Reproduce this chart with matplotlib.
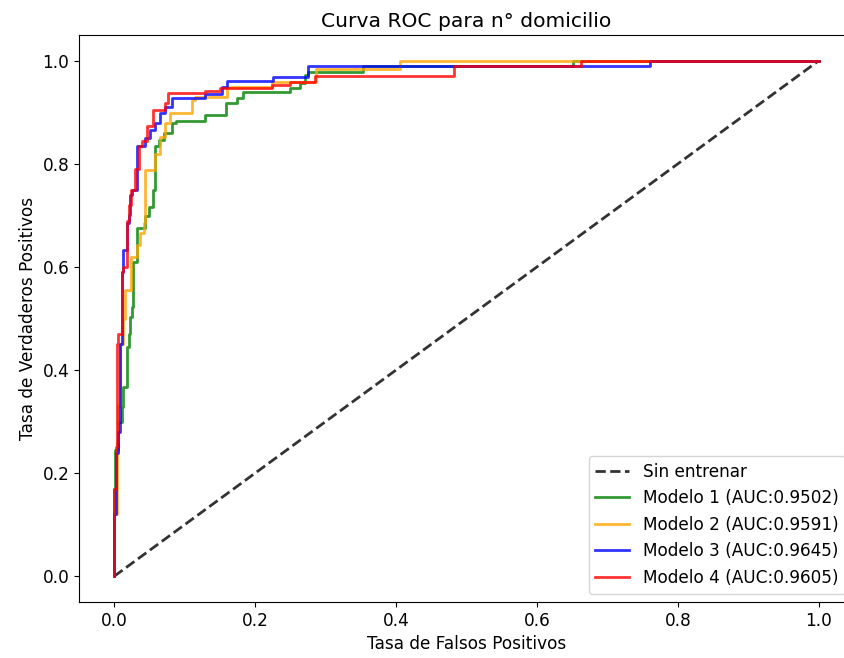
import matplotlib
matplotlib.use("Agg")
import matplotlib.pyplot as plt

# ROC staircase corners (fpr, tpr)
fpr_m1 = [0, 0, 0.001, 0.006, 0.011, 0.013, 0.018, 0.021, 0.022, 0.025, 0.027, 0.032, 0.032,
          0.044, 0.049, 0.055, 0.058, 0.063, 0.070, 0.082, 0.087, 0.129, 0.159, 0.174, 0.183,
          0.250, 0.264, 0.271, 0.275, 0.353, 0.651, 1.0]
tpr_m1 = [0, 0.17, 0.245, 0.30, 0.329, 0.368, 0.445, 0.47, 0.503, 0.523, 0.61, 0.627, 0.675,
          0.698, 0.717, 0.75, 0.834, 0.847, 0.860, 0.879, 0.883, 0.895, 0.918, 0.927, 0.939,
          0.947, 0.957, 0.973, 0.979, 0.989, 1.0, 1.0]

fpr_m2 = [0, 0, 0.004, 0.006, 0.008, 0.013, 0.016, 0.024, 0.032, 0.037, 0.042, 0.044, 0.058,
          0.065, 0.072, 0.079, 0.110, 0.115, 0.160, 0.224, 0.287, 0.406, 1.0]
tpr_m2 = [0, 0.12, 0.26, 0.33, 0.45, 0.50, 0.555, 0.62, 0.643, 0.665, 0.685, 0.788, 0.82,
          0.853, 0.879, 0.898, 0.924, 0.930, 0.950, 0.958, 0.984, 1.0, 1.0]

fpr_m3 = [0, 0, 0.002, 0.006, 0.008, 0.011, 0.013, 0.018, 0.021, 0.022, 0.025, 0.032, 0.044,
          0.051, 0.058, 0.065, 0.072, 0.082, 0.129, 0.153, 0.160, 0.226, 0.275, 0.760, 1.0]
tpr_m3 = [0, 0.12, 0.24, 0.28, 0.45, 0.59, 0.633, 0.685, 0.70, 0.74, 0.75, 0.834, 0.850,
          0.866, 0.879, 0.898, 0.911, 0.927, 0.935, 0.950, 0.960, 0.968, 0.990, 1.0, 1.0]

fpr_m4 = [0, 0, 0.002, 0.004, 0.006, 0.011, 0.013, 0.018, 0.021, 0.024, 0.030, 0.035, 0.039,
          0.046, 0.055, 0.072, 0.077, 0.129, 0.150, 0.224, 0.250, 0.285, 0.482, 0.663, 1.0]
tpr_m4 = [0, 0.17, 0.25, 0.45, 0.47, 0.59, 0.60, 0.69, 0.72, 0.75, 0.79, 0.835, 0.845,
          0.873, 0.905, 0.918, 0.937, 0.942, 0.948, 0.953, 0.958, 0.970, 0.989, 1.0, 1.0]

modelos = ["Modelo 1", "Modelo 2", "Modelo 3", "Modelo 4"]
aucs = [0.9502, 0.9591, 0.9645, 0.9605]
colores = ["green", "orange", "blue", "red"]

plt.rcParams["font.size"] = 12.2

fig = plt.figure(figsize=(8.45, 6.58), dpi=100)
ax = fig.add_axes([0.0935, 0.0851, 0.917, 0.8617])

ax.plot([0, 1], [0, 1], "k--", alpha=0.8, lw=2, label="Sin entrenar")
curvas = [(fpr_m1, tpr_m1), (fpr_m2, tpr_m2), (fpr_m3, tpr_m3), (fpr_m4, tpr_m4)]
for (f, t), nombre, auc, c in zip(curvas, modelos, aucs, colores):
    ax.plot(f, t, drawstyle="steps-post", color=c, alpha=0.8, lw=2,
            label=f"{nombre} (AUC:{auc})")

ax.set_title("Curva ROC para n° domicilio", fontsize=14.6)
ax.set_xlabel("Tasa de Falsos Positivos")
ax.set_ylabel("Tasa de Verdaderos Positivos")
ax.legend(loc="lower right")

fig.savefig("out.png", dpi=100)
